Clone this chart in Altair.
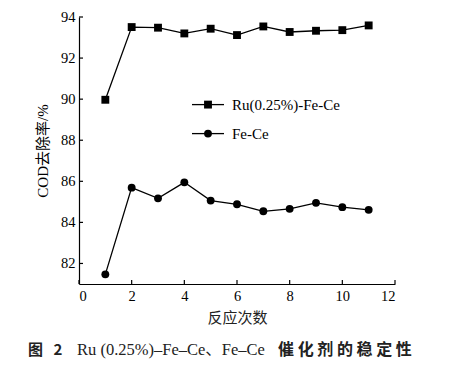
import altair as alt
import pandas as pd

runs = [1, 2, 3, 4, 5, 6, 7, 8, 9, 10, 11]
ru_fece = [89.97, 93.51, 93.48, 93.20, 93.43, 93.12, 93.54, 93.27, 93.33, 93.36, 93.59]
fece = [81.47, 85.69, 85.17, 85.95, 85.06, 84.88, 84.54, 84.66, 84.95, 84.74, 84.61]
series_names = ["Ru(0.25%)-Fe-Ce", "Fe-Ce"]
series_shapes = ["square", "circle"]
x_ticks = [0, 2, 4, 6, 8, 10, 12]
y_ticks = [82, 84, 86, 88, 90, 92, 94]
x_title = "反应次数"
y_title = "COD去除率/%"
caption_parts = ["图\u2002\u20092", "Ru (0.25%)–Fe–Ce、Fe–Ce", "催 化 剂 的 稳 定 性"]

W, H = 316, 267
SERIF = "'Liberation Serif', 'Times New Roman', serif"
MIXED = "'Liberation Serif', 'Noto Sans CJK SC'"
CJK = "Noto Sans CJK SC"

df = pd.DataFrame({
    "run": runs * 2,
    "value": ru_fece + fece,
    "series": [series_names[0]] * len(runs) + [series_names[1]] * len(runs),
})

xs = alt.Scale(domain=[0, 12], nice=False, zero=False)
ys = alt.Scale(domain=[81, 94], nice=False, zero=False)

xaxis = alt.Axis(values=x_ticks, title=x_title, tickSize=0, labelPadding=5,
                 labelFont=SERIF, labelFontSize=14.5, labelColor="black",
                 titleFont=CJK, titleFontSize=15, titleFontWeight="normal",
                 titleColor="#222", titlePadding=8, domainColor="black",
                 domainWidth=1.2, grid=False)
yaxis = alt.Axis(values=y_ticks, title=y_title, tickSize=0, labelPadding=4,
                 labelFont=SERIF, labelFontSize=14.5, labelColor="black",
                 titleFont=MIXED, titleFontSize=15, titleFontWeight="normal",
                 titleColor="black", titlePadding=10, domainColor="black",
                 domainWidth=1.2, grid=False)

base = alt.Chart(df)
lines = base.mark_line(color="black", strokeWidth=1.3).encode(
    x=alt.X("run:Q", scale=xs, axis=xaxis),
    y=alt.Y("value:Q", scale=ys, axis=yaxis),
    detail="series:N",
)
points = base.mark_point(filled=True, color="black", opacity=1, size=62).encode(
    x=alt.X("run:Q", scale=xs),
    y=alt.Y("value:Q", scale=ys),
    shape=alt.Shape("series:N", scale=alt.Scale(domain=series_names, range=series_shapes), legend=None),
)

xt = alt.Chart(pd.DataFrame({"t": x_ticks})).mark_rule(color="black", strokeWidth=1.2).encode(
    x=alt.X("t:Q", scale=xs), y=alt.value(H), y2=alt.value(H - 4))
yt = alt.Chart(pd.DataFrame({"t": y_ticks})).mark_rule(color="black", strokeWidth=1.2).encode(
    y=alt.Y("t:Q", scale=ys), x=alt.value(0), x2=alt.value(4))

layers = [lines, points, xt, yt]

leg_y = [87.6, 116.6]
for name, shp, ly in zip(series_names, series_shapes, leg_y):
    ldf = pd.DataFrame({"label": [name]})
    layers.append(alt.Chart(ldf).mark_rule(color="black", strokeWidth=1.3).encode(
        x=alt.value(113), x2=alt.value(145), y=alt.value(ly)))
    layers.append(alt.Chart(ldf).mark_point(filled=True, color="black", opacity=1, size=62, shape=shp).encode(
        x=alt.value(129), y=alt.value(ly)))
    layers.append(alt.Chart(ldf).mark_text(align="left", baseline="middle", font=SERIF, fontSize=15, color="black").encode(
        x=alt.value(153), y=alt.value(ly), text="label:N"))

cap_x = [-51, -2, 199]
cap_font = [CJK, MIXED, CJK]
cap_weight = ["bold", "normal", "bold"]
cap_size = [15, 16.5, 16]
for txt, cx, cf, cw, cs in zip(caption_parts, cap_x, cap_font, cap_weight, cap_size):
    cdf = pd.DataFrame({"label": [txt]})
    layers.append(alt.Chart(cdf).mark_text(align="left", baseline="middle", font=cf, fontWeight=cw,
                                            fontSize=cs, color="#222").encode(
        x=alt.value(cx), y=alt.value(333), text="label:N"))

chart = alt.layer(*layers).properties(
    width=W, height=H,
    autosize=alt.AutoSizeParams(type="none"),
    padding={"left": 71, "top": 9, "right": 46, "bottom": 80},
    background="white",
).configure_view(stroke=None)

chart.save("out.html", embed_options={"renderer": "svg", "actions": False})
